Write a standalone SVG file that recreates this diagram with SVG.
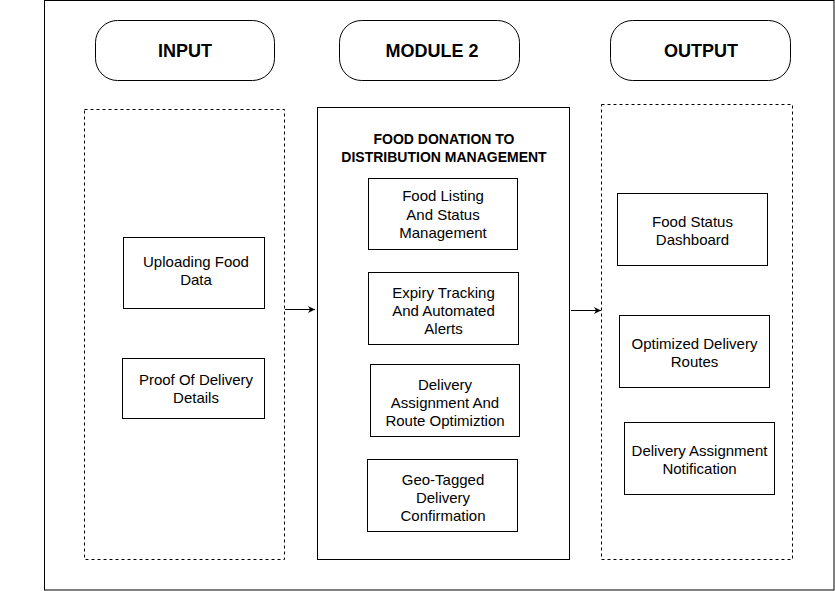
<svg xmlns="http://www.w3.org/2000/svg" width="835" height="591" viewBox="0 0 835 591">
<style>
.box{fill:#fff;stroke:#000;stroke-width:1}
.dash{fill:none;stroke:#000;stroke-width:1;stroke-dasharray:3 3}
.hdr{fill:#fff;stroke:#000;stroke-width:1}
.t{font-family:"Liberation Sans",Arial,sans-serif;font-size:15px;fill:#000;text-anchor:middle}
.h{font-family:"Liberation Sans",Arial,sans-serif;font-size:18px;font-weight:bold;fill:#000;text-anchor:middle}
.s{font-family:"Liberation Sans",Arial,sans-serif;font-size:14px;font-weight:bold;fill:#000;text-anchor:middle}
.c{fill:none;stroke:#000;stroke-width:1}
</style>
<defs>
<marker id="arr" markerWidth="8" markerHeight="8" refX="7" refY="4" orient="auto" markerUnits="userSpaceOnUse">
<path d="M0,0.5 L7,4 L0,7.5 L2,4 Z" fill="#000"/>
</marker>
</defs>
<rect x="0" y="0" width="835" height="591" fill="#fff"/>
<rect id="frame" x="44.5" y="0.5" width="789.5" height="589.5" fill="none" stroke="#000" stroke-width="1"/>

<g id="hdr-input"><rect class="hdr" x="95.5" y="20.5" width="179" height="60" rx="22"/><text class="h" x="185" y="57">INPUT</text></g>
<g id="hdr-module"><rect class="hdr" x="339.5" y="20.5" width="180" height="60" rx="22"/><text class="h" x="432" y="57">MODULE 2</text></g>
<g id="hdr-output"><rect class="hdr" x="610.5" y="20.5" width="180" height="60" rx="22"/><text class="h" x="701" y="57">OUTPUT</text></g>

<g id="input-group"><rect class="dash" x="84.5" y="109.5" width="200" height="450"/></g>
<g id="module-group"><rect class="box" x="317.5" y="107.5" width="252" height="452"/>
<text class="s" x="444" y="144">FOOD DONATION TO</text>
<text class="s" x="444" y="162">DISTRIBUTION MANAGEMENT</text></g>
<g id="output-group"><rect class="dash" x="601.5" y="104.5" width="191" height="455"/></g>

<g id="n-upload"><rect class="box" x="123.5" y="237.5" width="141" height="71"/><text class="t" x="196" y="267">Uploading Food</text><text class="t" x="196" y="285">Data</text></g>
<g id="n-proof"><rect class="box" x="122.5" y="358.5" width="142" height="60"/><text class="t" x="196" y="385">Proof Of Delivery</text><text class="t" x="196" y="403">Details</text></g>

<g id="n-listing"><rect class="box" x="368.5" y="178.5" width="149" height="71"/><text class="t" x="443" y="201">Food  Listing</text><text class="t" x="443" y="220">And Status</text><text class="t" x="443" y="238">Management</text></g>
<g id="n-expiry"><rect class="box" x="368.5" y="272.5" width="150" height="72"/><text class="t" x="443.5" y="298">Expiry Tracking</text><text class="t" x="443.5" y="316">And Automated</text><text class="t" x="443.5" y="334">Alerts</text></g>
<g id="n-route"><rect class="box" x="370.5" y="364.5" width="149" height="72"/><text class="t" x="445" y="390">Delivery</text><text class="t" x="445" y="408">Assignment And</text><text class="t" x="445" y="426">Route Optimiztion</text></g>
<g id="n-geo"><rect class="box" x="367.5" y="459.5" width="150" height="72"/><text class="t" x="443" y="485">Geo-Tagged</text><text class="t" x="443" y="503">Delivery</text><text class="t" x="443" y="521">Confirmation</text></g>

<g id="n-dash"><rect class="box" x="617.5" y="193.5" width="150" height="72"/><text class="t" x="692.5" y="227">Food Status</text><text class="t" x="692.5" y="245">Dashboard</text></g>
<g id="n-routes"><rect class="box" x="619.5" y="315.5" width="150" height="72"/><text class="t" x="694.5" y="349">Optimized Delivery</text><text class="t" x="694.5" y="367">Routes</text></g>
<g id="n-notif"><rect class="box" x="624.5" y="422.5" width="150" height="72"/><text class="t" x="699.5" y="456">Delivery Assignment</text><text class="t" x="699.5" y="474">Notification</text></g>

<g id="connectors">
<line class="c" x1="285" y1="309.5" x2="315" y2="309.5" marker-end="url(#arr)"/>
<line class="c" x1="571" y1="310.5" x2="601" y2="310.5" marker-end="url(#arr)"/>
</g>
</svg>
